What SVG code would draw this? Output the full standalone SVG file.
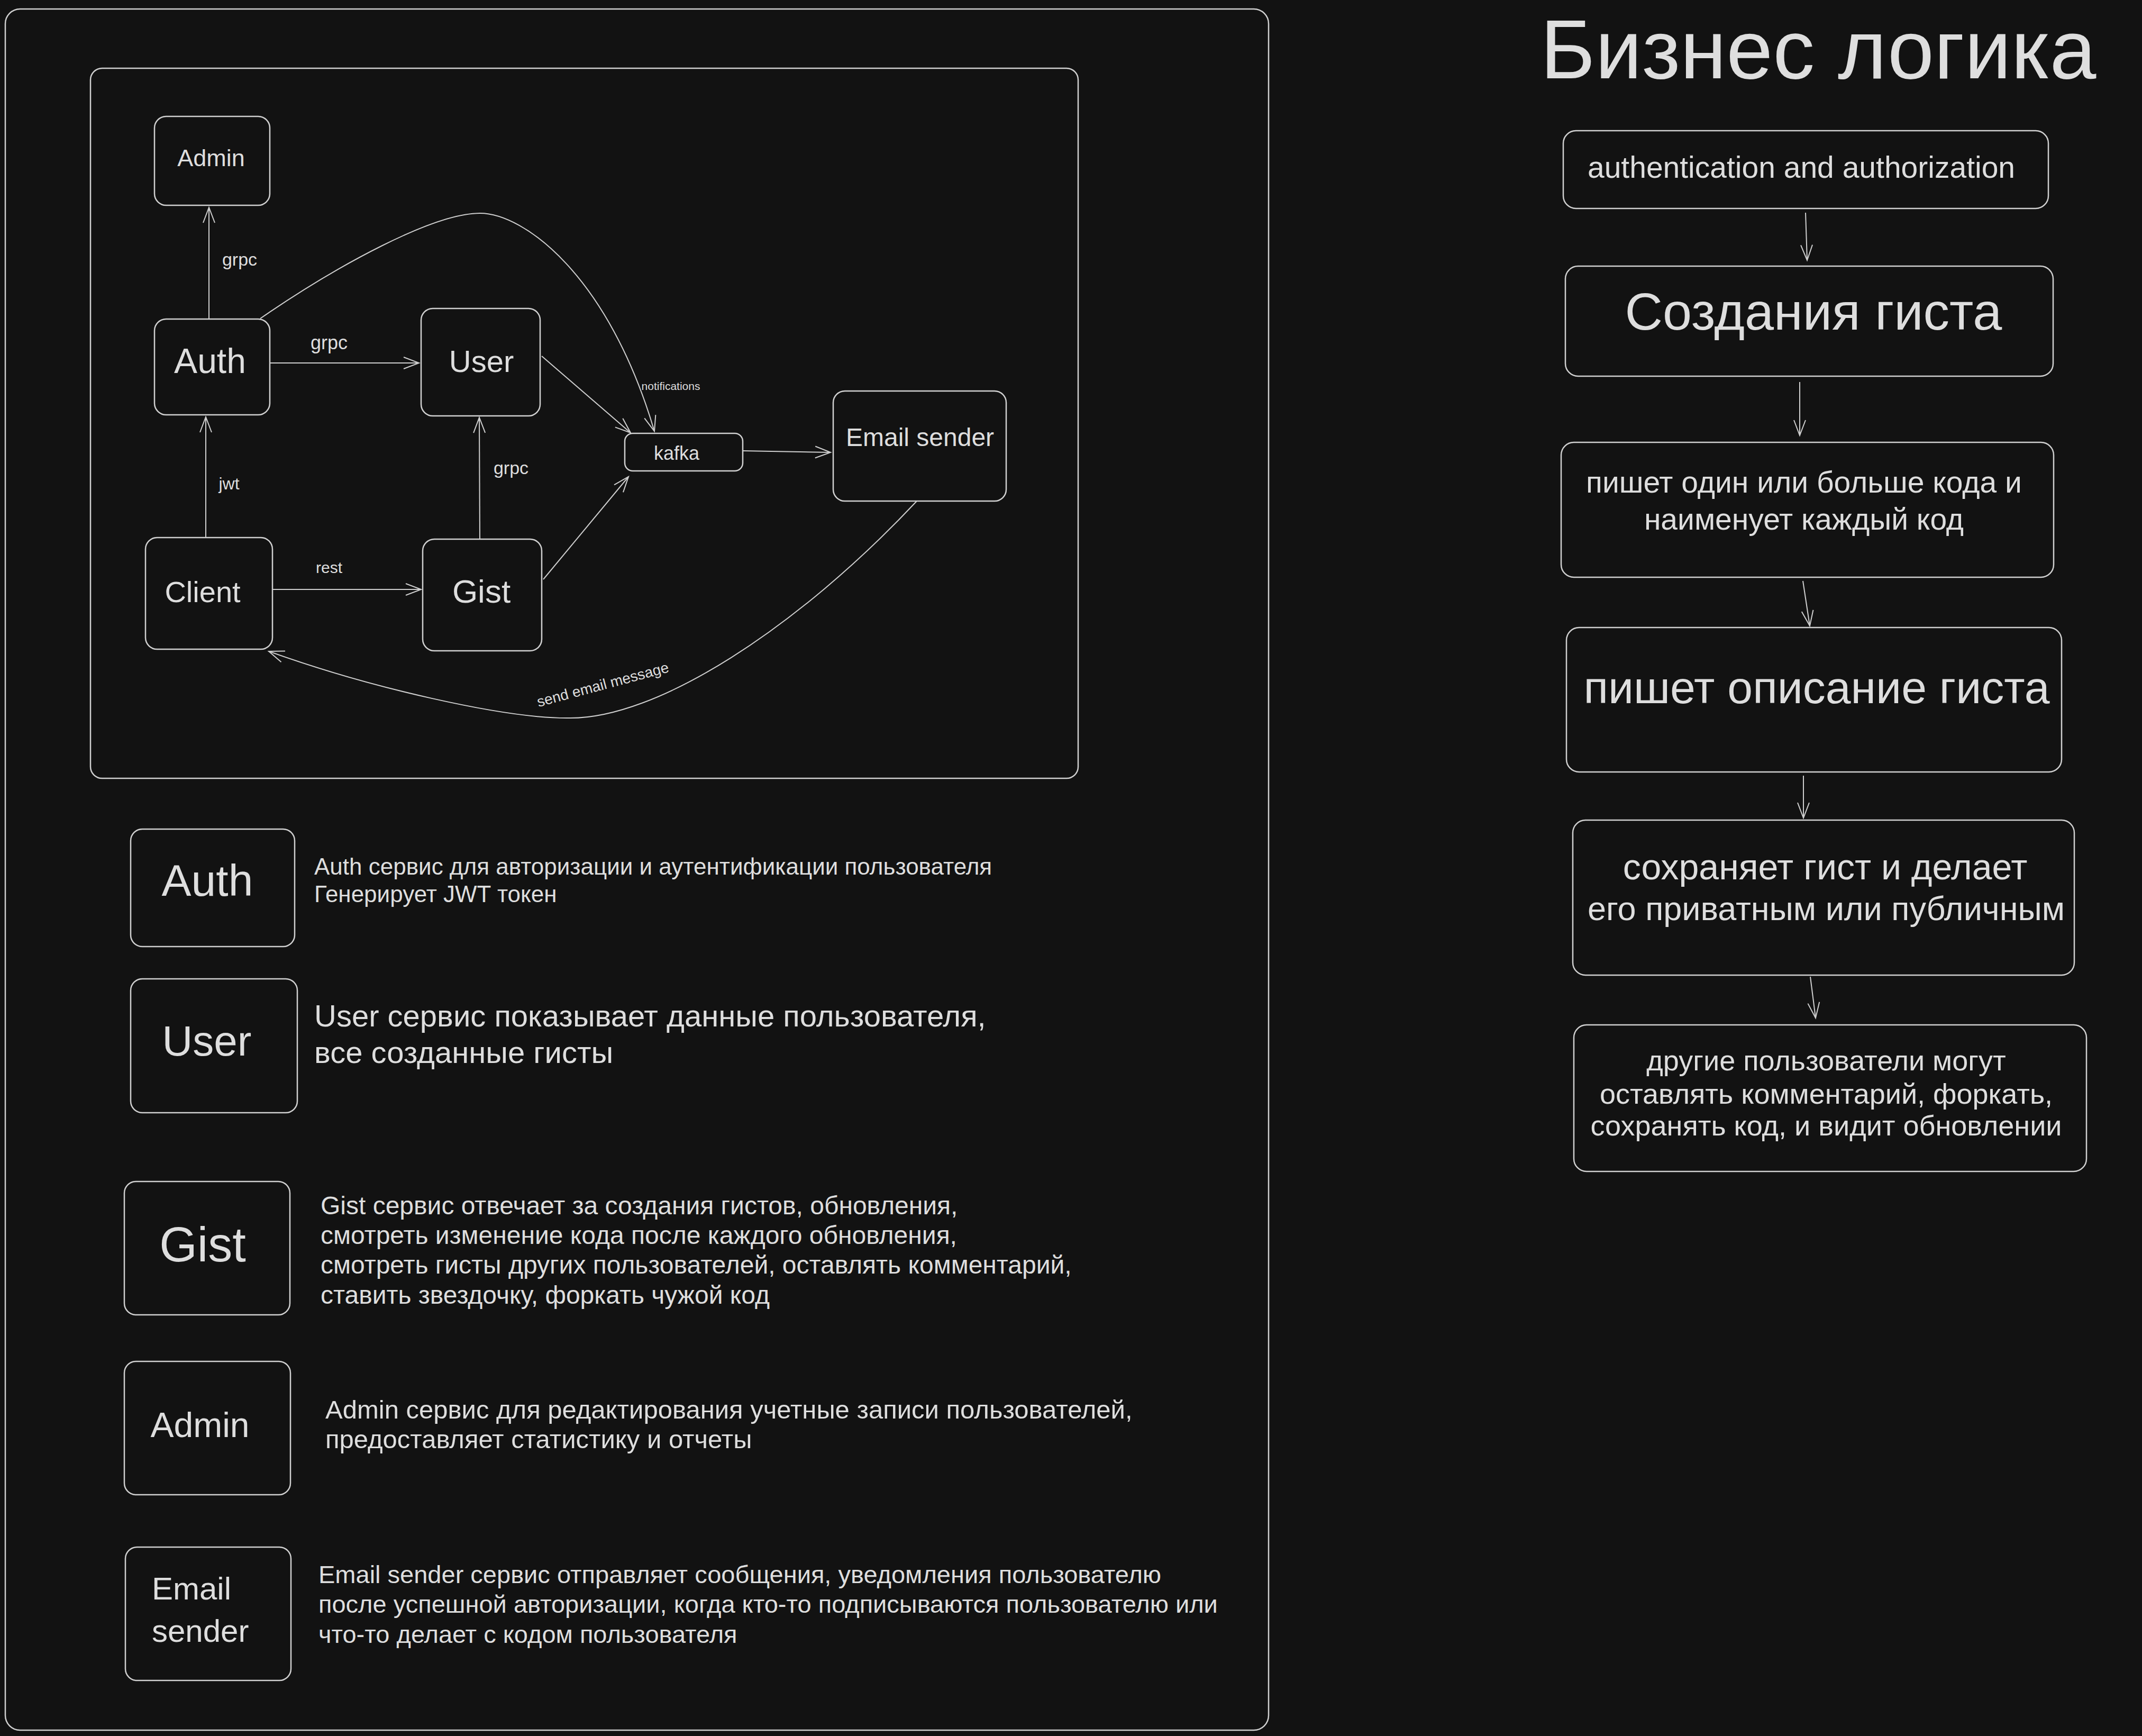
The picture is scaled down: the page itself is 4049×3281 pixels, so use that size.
<svg xmlns="http://www.w3.org/2000/svg" width="4049" height="3281" viewBox="0 0 4049 3281">
<style>
.bx{fill:#121212;stroke:#d0d0d0;stroke-width:2.5}
.fr{fill:none;stroke:#d0d0d0;stroke-width:2.5}
.ln{fill:none;stroke:#cfcfcf;stroke-width:2;marker-end:url(#ah)}
text{font-family:"Liberation Sans",Arial,sans-serif;fill:#dedede}
.m{text-anchor:middle}
</style>
<defs>
<marker id="ah" viewBox="-34 -16 38 32" refX="0" refY="0" markerWidth="38" markerHeight="32" markerUnits="userSpaceOnUse" orient="auto">
<path d="M-29,-11 L0,0 L-29,11" fill="none" stroke="#cfcfcf" stroke-width="2"/>
</marker>
</defs>
<rect x="0" y="0" width="4049" height="3281" fill="#121212"/>

<g id="outer-frame"><rect class="fr" x="10" y="17" width="2388" height="3253" rx="28"/></g>
<g id="inner-frame"><rect class="fr" x="171" y="129" width="1867" height="1342" rx="22"/></g>

<g id="connectors">
<path class="ln" d="M395,603 L395,392"/>
<path class="ln" d="M389,1016 L389,788"/>
<path class="ln" d="M510,686 L792,686"/>
<path class="ln" d="M515,1114 L796,1114"/>
<path class="ln" d="M907,1019 L906,789"/>
<path class="ln" d="M1024,673 L1192,818"/>
<path class="ln" d="M1027,1095 L1188,901"/>
<path class="ln" d="M1404,852 L1570,855"/>
<path class="ln" d="M492,602 C640,500 820,403 907,403 C990,403 1150,520 1237,815"/>
<path class="ln" d="M1733,947 C1510,1185 1240,1362 1071,1357 C950,1357 700,1300 508,1231"/>
<path class="ln" d="M3413,402 L3416,492"/>
<path class="ln" d="M3402,722 L3402,823"/>
<path class="ln" d="M3408,1098 L3421,1183"/>
<path class="ln" d="M3409,1466 L3409,1546"/>
<path class="ln" d="M3422,1846 L3432,1924"/>
<text class="m" x="453" y="502" font-size="34">grpc</text>
<text class="m" x="622" y="660" font-size="36">grpc</text>
<text class="m" x="966" y="896" font-size="34">grpc</text>
<text class="m" x="433" y="925" font-size="32">jwt</text>
<text class="m" x="622" y="1083" font-size="30">rest</text>
<text class="m" x="1268" y="737" font-size="21">notifications</text>
<text class="m" font-size="28" transform="translate(1142,1303) rotate(-15)">send email message</text>
</g>

<g id="node-admin"><rect class="bx" x="292" y="220" width="218" height="168" rx="22"/><text class="m" x="399" y="314" font-size="45">Admin</text></g>
<g id="node-auth"><rect class="bx" x="292" y="603" width="218" height="181" rx="22"/><text class="m" x="397" y="705" font-size="66">Auth</text></g>
<g id="node-user"><rect class="bx" x="796" y="583" width="225" height="203" rx="22"/><text class="m" x="910" y="703" font-size="58">User</text></g>
<g id="node-client"><rect class="bx" x="275" y="1016" width="240" height="211" rx="22"/><text class="m" x="383" y="1138" font-size="56">Client</text></g>
<g id="node-gist"><rect class="bx" x="799" y="1019" width="225" height="211" rx="22"/><text class="m" x="910" y="1139" font-size="62">Gist</text></g>
<g id="node-kafka"><rect class="bx" x="1181" y="819" width="223" height="71" rx="15"/><text class="m" x="1279" y="869" font-size="36">kafka</text></g>
<g id="node-email"><rect class="bx" x="1575" y="739" width="327" height="208" rx="22"/><text class="m" x="1739" y="843" font-size="48">Email sender</text></g>

<g id="desc-auth"><rect class="bx" x="247" y="1567" width="310" height="222" rx="22"/><text class="m" x="392" y="1693" font-size="84">Auth</text>
<text x="594" y="1653" font-size="44">Auth сервис для авторизации и аутентификации пользователя</text>
<text x="594" y="1705" font-size="44">Генерирует JWT токен</text></g>
<g id="desc-user"><rect class="bx" x="247" y="1850" width="315" height="253" rx="22"/><text class="m" x="391" y="1995" font-size="80">User</text>
<text x="594" y="1940" font-size="58">User сервис показывает данные пользователя,</text>
<text x="594" y="2009" font-size="58">все созданные гисты</text></g>
<g id="desc-gist"><rect class="bx" x="235" y="2233" width="313" height="252" rx="22"/><text class="m" x="383" y="2384" font-size="92">Gist</text>
<text x="606" y="2295" font-size="48">Gist сервис отвечает за создания гистов, обновления,</text>
<text x="606" y="2351" font-size="48">смотреть изменение кода после каждого обновления,</text>
<text x="606" y="2407" font-size="48">смотреть гисты других пользователей, оставлять комментарий,</text>
<text x="606" y="2464" font-size="48">ставить звездочку, форкать чужой код</text></g>
<g id="desc-admin"><rect class="bx" x="235" y="2573" width="314" height="252" rx="22"/><text class="m" x="378" y="2716" font-size="66">Admin</text>
<text x="615" y="2681" font-size="49">Admin сервис для редактирования учетные записи пользователей,</text>
<text x="615" y="2737" font-size="49">предоставляет статистику и отчеты</text></g>
<g id="desc-email"><rect class="bx" x="237" y="2924" width="313" height="252" rx="22"/>
<text x="287" y="3023" font-size="60">Email</text><text x="287" y="3103" font-size="60">sender</text>
<text x="602" y="2992" font-size="47">Email sender сервис отправляет сообщения, уведомления пользователю</text>
<text x="602" y="3048" font-size="47">после успешной авторизации, когда кто-то подписываются пользователю или</text>
<text x="602" y="3105" font-size="47">что-то делает с кодом пользователя</text></g>

<g id="title"><text class="m" x="3437" y="148" font-size="158">Бизнес логика</text></g>
<g id="step-auth"><rect class="bx" x="2955" y="247" width="917" height="147" rx="24"/><text class="m" x="3405" y="336" font-size="57">authentication and authorization</text></g>
<g id="step-create"><rect class="bx" x="2959" y="503" width="922" height="208" rx="24"/><text class="m" x="3428" y="623" font-size="99">Создания гиста</text></g>
<g id="step-code"><rect class="bx" x="2951" y="836" width="931" height="255" rx="24"/>
<text class="m" x="3410" y="931" font-size="57">пишет один или больше кода и</text>
<text class="m" x="3410" y="1001" font-size="57">наименует каждый код</text></g>
<g id="step-desc"><rect class="bx" x="2961" y="1186" width="936" height="273" rx="24"/><text class="m" x="3434" y="1329" font-size="86">пишет описание гиста</text></g>
<g id="step-save"><rect class="bx" x="2973" y="1550" width="948" height="293" rx="24"/>
<text class="m" x="3450" y="1662" font-size="68">сохраняет гист и делает</text>
<text class="m" x="3452" y="1739" font-size="63">его приватным или публичным</text></g>
<g id="step-others"><rect class="bx" x="2975" y="1937" width="969" height="277" rx="24"/>
<text class="m" x="3452" y="2023" font-size="54">другие пользователи могут</text>
<text class="m" x="3452" y="2086" font-size="54">оставлять комментарий, форкать,</text>
<text class="m" x="3452" y="2146" font-size="54">сохранять код, и видит обновлении</text></g>
</svg>
